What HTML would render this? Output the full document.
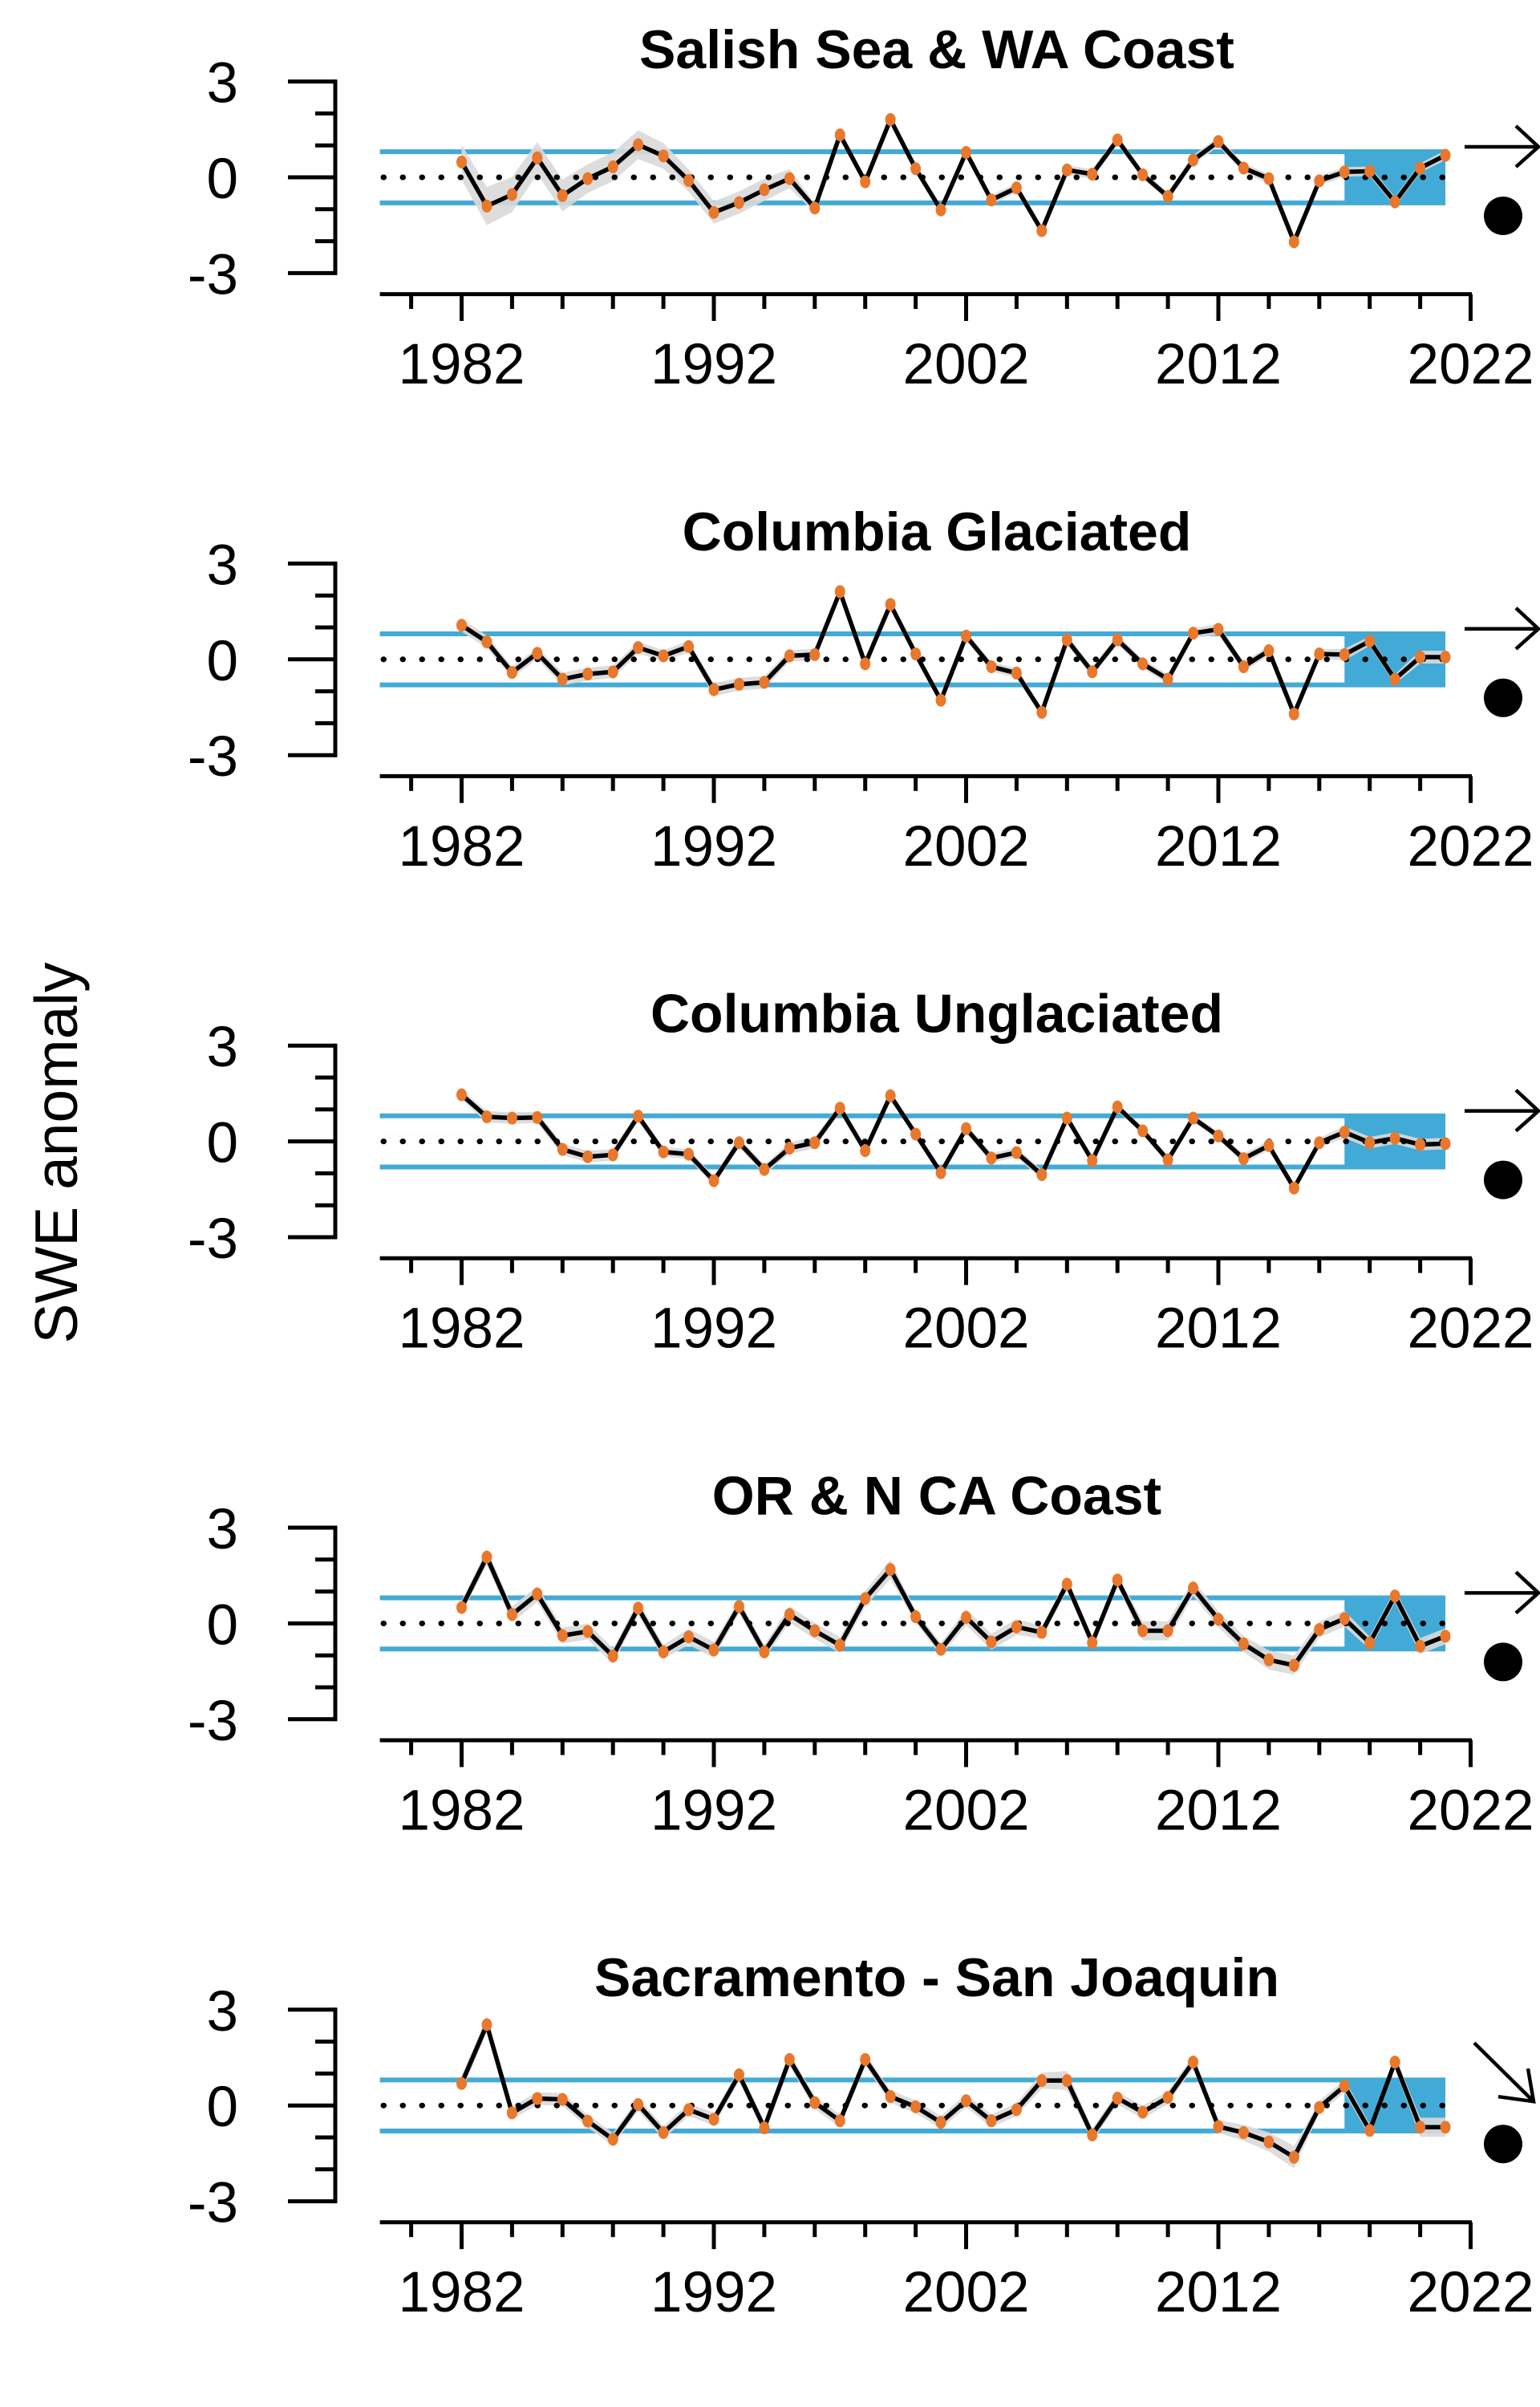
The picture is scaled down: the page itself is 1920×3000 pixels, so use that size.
<!DOCTYPE html>
<html><head><meta charset="utf-8">
<style>
html,body{margin:0;padding:0;background:#fff;}
svg{display:block;}
text{font-family:"Liberation Sans",Arial,sans-serif;fill:#000;}
</style></head>
<body>
<svg id="chart" width="1920" height="3000" viewBox="0 0 1920 3000" xmlns="http://www.w3.org/2000/svg">
<text transform="translate(96,1437) rotate(-90)" text-anchor="middle" font-size="75">SWE anomaly</text>
</svg>
<script>
const years = [];
for (let y = 1982; y <= 2021; y++) years.push(y);
const titles = ["Salish Sea & WA Coast","Columbia Glaciated","Columbia Unglaciated","OR & N CA Coast","Sacramento - San Joaquin"];
const trends = ["flat","flat","flat","flat","down"];
const s1 = [0.48,-0.9,-0.54,0.61,-0.57,-0.04,0.33,1.02,0.67,-0.1,-1.1,-0.79,-0.39,-0.04,-0.96,1.33,-0.14,1.81,0.27,-1.02,0.78,-0.71,-0.33,-1.67,0.23,0.1,1.17,0.08,-0.6,0.54,1.12,0.29,-0.04,-2.02,-0.11,0.17,0.19,-0.77,0.29,0.69];
const s2 = [1.07,0.55,-0.41,0.19,-0.62,-0.46,-0.39,0.37,0.11,0.4,-0.95,-0.78,-0.72,0.11,0.15,2.12,-0.14,1.72,0.17,-1.28,0.73,-0.23,-0.43,-1.66,0.61,-0.39,0.61,-0.14,-0.62,0.82,0.94,-0.23,0.27,-1.71,0.17,0.15,0.57,-0.62,0.07,0.07];
const s3 = [1.46,0.77,0.73,0.75,-0.25,-0.48,-0.42,0.79,-0.33,-0.4,-1.23,-0.04,-0.88,-0.21,-0.04,1.04,-0.29,1.43,0.23,-0.98,0.4,-0.52,-0.35,-1.04,0.73,-0.6,1.08,0.33,-0.58,0.73,0.17,-0.54,-0.13,-1.46,-0.04,0.29,-0.04,0.1,-0.1,-0.07];
const s4 = [0.5,2.08,0.28,0.92,-0.38,-0.25,-1.02,0.48,-0.89,-0.42,-0.83,0.53,-0.89,0.28,-0.23,-0.68,0.78,1.69,0.21,-0.81,0.19,-0.58,-0.11,-0.28,1.23,-0.6,1.36,-0.23,-0.23,1.11,0.13,-0.64,-1.14,-1.31,-0.19,0.15,-0.61,0.86,-0.71,-0.4];
const s5 = [0.69,2.53,-0.23,0.22,0.19,-0.49,-1.06,0.03,-0.85,-0.13,-0.43,0.96,-0.7,1.44,0.09,-0.48,1.44,0.28,-0.04,-0.53,0.15,-0.48,-0.13,0.78,0.78,-0.92,0.23,-0.21,0.25,1.36,-0.66,-0.85,-1.14,-1.62,-0.06,0.61,-0.78,1.36,-0.68,-0.68];
const se1 = [0.55,0.6,0.55,0.5,0.5,0.45,0.45,0.45,0.4,0.35,0.35,0.35,0.35,0.3,0.15,0.15,0.15,0.15,0.12,0.12,0.12,0.15,0.15,0.15,0.15,0.15,0.15,0.12,0.12,0.15,0.15,0.15,0.15,0.15,0.15,0.15,0.15,0.15,0.15,0.15];
const se2 = [0.2,0.2,0.18,0.18,0.2,0.2,0.2,0.18,0.18,0.18,0.2,0.2,0.2,0.18,0.18,0.15,0.15,0.15,0.15,0.15,0.15,0.15,0.15,0.15,0.15,0.15,0.15,0.15,0.15,0.15,0.18,0.15,0.15,0.15,0.15,0.18,0.15,0.15,0.2,0.2];
const se3 = [0.15,0.18,0.18,0.18,0.18,0.18,0.18,0.15,0.15,0.15,0.15,0.15,0.15,0.18,0.18,0.12,0.12,0.12,0.12,0.12,0.12,0.15,0.15,0.15,0.12,0.12,0.12,0.12,0.12,0.12,0.12,0.15,0.15,0.12,0.15,0.18,0.18,0.18,0.18,0.18];
const se4 = [0.2,0.25,0.25,0.25,0.25,0.25,0.25,0.22,0.22,0.25,0.25,0.22,0.22,0.25,0.25,0.25,0.25,0.3,0.2,0.2,0.25,0.25,0.25,0.2,0.2,0.2,0.2,0.3,0.3,0.25,0.25,0.25,0.3,0.3,0.25,0.25,0.2,0.2,0.25,0.25];
const se5 = [0.25,0.25,0.2,0.2,0.2,0.2,0.2,0.2,0.2,0.2,0.2,0.2,0.2,0.2,0.2,0.2,0.2,0.2,0.2,0.2,0.2,0.2,0.2,0.25,0.3,0.2,0.2,0.2,0.2,0.2,0.2,0.25,0.3,0.35,0.2,0.2,0.2,0.2,0.3,0.3];
const series = [s1,s2,s3,s4,s5];
const ses = [se1,se2,se3,se4,se5];
const bandHalf = 0.8;
const yTicks = [3,0,-3];
const yMinor = [2,1,-1,-2];
const xMajor = [1982,1992,2002,2012,2022];
const xMinor = [1980,1984,1986,1988,1990,1994,1996,1998,2000,2004,2006,2008,2010,2014,2016,2018,2020];
const recentStart = 2017, recentEnd = 2021;

const NS = "http://www.w3.org/2000/svg";
const svg = document.getElementById("chart");
function mk(tag, attrs, parent){
  const e = document.createElementNS(NS, tag);
  for (const k in attrs) e.setAttribute(k, attrs[k]);
  (parent||svg).appendChild(e);
  return e;
}
const X0 = 575.5, XS = 31.45, UNIT = 39.8;
function xv(yr){ return X0 + (yr-1982)*XS; }
const AW = 5;

titles.forEach((title, p) => {
  const zero = 221 + 600.8*p;
  function yv(v){ return zero - v*UNIT; }
  const g = mk("g", {});
  
  

  const t = mk("text", {x:1168, y:zero-136, "text-anchor":"middle", "font-size":68, "font-weight":"bold"}, g);
  t.textContent = title;
  
  

  const box = mk("rect", {x:xv(recentStart), y:yv(bandHalf), width:xv(recentEnd)-xv(recentStart), height:yv(-bandHalf)-yv(bandHalf), fill:"#42aad6"}, g);
  
  
  [bandHalf,-bandHalf].forEach(b => {
    const l = mk("line", {x1:473.6, x2:xv(recentEnd), y1:yv(b), y2:yv(b), stroke:"#42aad6", "stroke-width":6}, g);
    
    
  });

  const s = series[p], se = ses[p];
  let up = [], dn = [];
  years.forEach((yr,i) => { up.push(xv(yr)+","+yv(s[i]+se[i])); dn.unshift(xv(yr)+","+yv(s[i]-se[i])); });
  const rib = mk("polygon", {points: up.concat(dn).join(" "), fill:"#d9d9d9", opacity:0.9}, g);
  
  

  const zl = mk("line", {x1:478, x2:xv(recentEnd), y1:zero, y2:zero, stroke:"#000", "stroke-width":7, "stroke-dasharray":"0.5 23.5", "stroke-linecap":"round"}, g);
  
  

  const pl = mk("polyline", {points: years.map((yr,i)=>xv(yr)+","+yv(s[i])).join(" "), fill:"none", stroke:"#000", "stroke-width":5.5, "stroke-linejoin":"round"}, g);
  
  
  years.forEach((yr,i) => {
    const c = mk("ellipse", {cx:xv(yr), cy:yv(s[i]), rx:6.5, ry:8, fill:"#e8782c"}, g);
    
    
  });

  const ya = mk("line", {x1:418, x2:418, y1:yv(3)-2.5, y2:yv(-3)+2.5, stroke:"#000", "stroke-width":AW}, g);
  
  
  yTicks.forEach(v => {
    mk("line", {x1:359, x2:418, y1:yv(v), y2:yv(v), stroke:"#000", "stroke-width":AW}, g);
    const tl = mk("text", {x:297, y:yv(v)+26, "text-anchor":"end", "font-size":71}, g);
    tl.textContent = String(v);
    
    
  });
  yMinor.forEach(v => mk("line", {x1:393, x2:418, y1:yv(v), y2:yv(v), stroke:"#000", "stroke-width":AW}, g));

  const xa = mk("line", {x1:473.6, x2:1835, y1:zero+145.6, y2:zero+145.6, stroke:"#000", "stroke-width":AW}, g);
  
  
  xMajor.forEach(yr => {
    mk("line", {x1:xv(yr), x2:xv(yr), y1:zero+145.6, y2:zero+179, stroke:"#000", "stroke-width":AW}, g);
    const tl = mk("text", {x:xv(yr), y:zero+257, "text-anchor":"middle", "font-size":71}, g);
    tl.textContent = String(yr);
    
    
  });
  xMinor.forEach(yr => mk("line", {x1:xv(yr), x2:xv(yr), y1:zero+145.6, y2:zero+164, stroke:"#000", "stroke-width":AW}, g));

  let arrow;
  if (trends[p] === "down") {
    arrow = mk("path", {d:`M1838 ${zero-78} L1912 ${zero-5} M1905 ${zero-46} L1912 ${zero-5} L1868 ${zero-11}`, fill:"none", stroke:"#000", "stroke-width":4.5}, g);
  } else {
    arrow = mk("path", {d:`M1826 ${zero-38} L1918 ${zero-38} M1890 ${zero-64} L1918 ${zero-38} L1890 ${zero-13}`, fill:"none", stroke:"#000", "stroke-width":4.5}, g);
  }
  
  
  const dot = mk("circle", {cx:1874, cy:zero+48, r:24, fill:"#000"}, g);
  
  
});
</script>
</body></html>
